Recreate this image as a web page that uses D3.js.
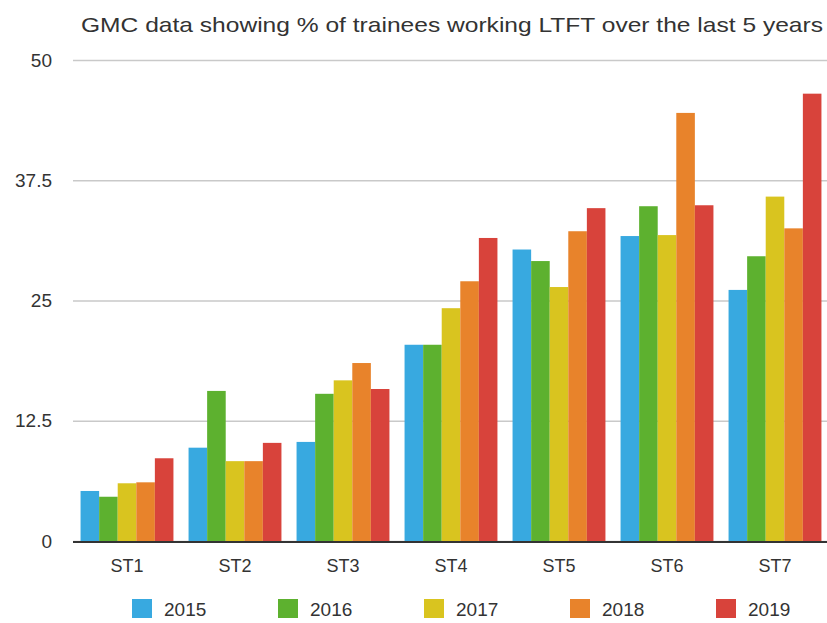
<!DOCTYPE html>
<html>
<head>
<meta charset="utf-8">
<script src="https://cdn.jsdelivr.net/npm/d3@7"></script>
<style>
  body { margin: 0; padding: 0; background: #fff; }
  text { font-family: "Liberation Sans", Arial, sans-serif; fill: #333; }
</style>
</head>
<body>
<script>
// data
var grades = ["ST1", "ST2", "ST3", "ST4", "ST5", "ST6", "ST7"];
var years = ["2015", "2016", "2017", "2018", "2019"];
var v2015 = [5.2, 9.7, 10.3, 20.4, 30.3, 31.7, 26.1];
var v2016 = [4.6, 15.6, 15.3, 20.4, 29.1, 34.8, 29.6];
var v2017 = [6.0, 8.3, 16.7, 24.2, 26.4, 31.8, 35.8];
var v2018 = [6.1, 8.3, 18.5, 27.0, 32.2, 44.5, 32.5];
var v2019 = [8.6, 10.2, 15.8, 31.5, 34.6, 34.9, 46.5];
var yTicks = [0, 12.5, 25, 37.5, 50];
var colors = ["#38a9e0", "#5db12f", "#d9c41f", "#e8832b", "#d8433b"];

var series = [v2015, v2016, v2017, v2018, v2019];

var width = 827, height = 623;
var svg = d3.select("body").append("svg")
    .attr("width", width)
    .attr("height", height)
    .style("display", "block");

var x0 = d3.scaleBand()
    .domain(grades)
    .range([73, 829])
    .paddingInner(0.14)
    .paddingOuter(0.07);

var x1 = d3.scaleBand()
    .domain(years)
    .range([0, x0.bandwidth()]);

var y = d3.scaleLinear()
    .domain([0, 50])
    .range([541, 60]);

var color = d3.scaleOrdinal().domain(years).range(colors);

// title - the original font is a bit wider, so stretch to its length
svg.append("text")
    .attr("x", 81)
    .attr("y", 32)
    .attr("font-size", 21)
    .attr("textLength", 742)
    .attr("lengthAdjust", "spacingAndGlyphs")
    .text("GMC data showing % of trainees working LTFT over the last 5 years");

// gridlines + y labels
var yAxis = d3.axisLeft(y)
    .tickValues(yTicks)
    .tickSize(-(width - 73))
    .tickPadding(21)
    .tickFormat(function(d) { return d; });

var gy = svg.append("g")
    .attr("transform", "translate(73,0)")
    .call(yAxis);
gy.select(".domain").remove();
gy.selectAll(".tick line")
    .attr("stroke", "#c9c9c9")
    .attr("stroke-width", 1.5);
gy.selectAll(".tick text")
    .attr("font-size", 19)
    .attr("font-family", "Liberation Sans, Arial, sans-serif")
    .attr("fill", "#333");

// bars
var groups = svg.selectAll("g.grade")
    .data(grades)
    .enter()
    .append("g")
    .attr("class", "grade")
    .attr("transform", function(d) { return "translate(" + x0(d) + ",0)"; });

groups.selectAll("rect")
    .data(function(d, i) {
        return years.map(function(yr, j) { return { year: yr, value: series[j][i] }; });
    })
    .enter()
    .append("rect")
    .attr("x", function(d) { return x1(d.year); })
    .attr("y", function(d) { return y(d.value); })
    .attr("width", x1.bandwidth())
    .attr("height", function(d) { return y(0) - y(d.value); })
    .attr("fill", function(d) { return color(d.year); });

// baseline
svg.append("line")
    .attr("x1", 73)
    .attr("x2", width)
    .attr("y1", y(0) + 1)
    .attr("y2", y(0) + 1)
    .attr("stroke", "#333")
    .attr("stroke-width", 2);

// x labels
var xAxis = d3.axisBottom(x0).tickSize(0).tickPadding(18);
var gx = svg.append("g")
    .attr("transform", "translate(0," + y(0) + ")")
    .call(xAxis);
gx.select(".domain").remove();
gx.selectAll(".tick text")
    .attr("font-size", 18)
    .attr("font-family", "Liberation Sans, Arial, sans-serif")
    .attr("fill", "#333");

// legend
var legend = svg.selectAll("g.legend")
    .data(years)
    .enter()
    .append("g")
    .attr("class", "legend")
    .attr("transform", function(d, i) { return "translate(" + (132 + i * 146) + ",599)"; });

legend.append("rect")
    .attr("width", 20)
    .attr("height", 19)
    .attr("fill", function(d) { return color(d); });

legend.append("text")
    .attr("x", 32)
    .attr("y", 17)
    .attr("font-size", 19)
    .text(function(d) { return d; });
</script>
</body>
</html>
